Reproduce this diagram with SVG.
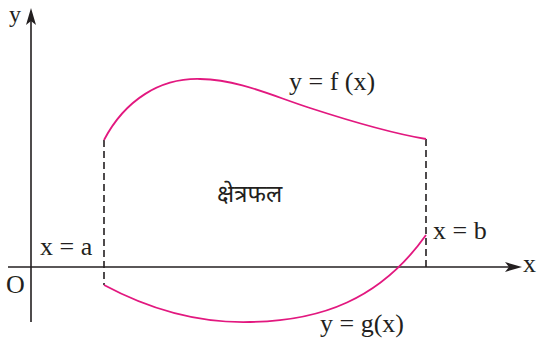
<svg xmlns="http://www.w3.org/2000/svg" width="537" height="347" viewBox="0 0 537 347">
<style>
.ax{stroke:#231f20;stroke-width:1.6;fill:none}
.ah{fill:#231f20}
.dash{stroke:#231f20;stroke-width:1.6;fill:none;stroke-dasharray:7 4}
.cur{stroke:#e2187f;stroke-width:1.8;fill:none}
.lbl{font-family:"Liberation Serif","Times New Roman",serif;font-size:26px;fill:#231f20}
.hin{font-family:"Noto Sans Devanagari","Noto Sans","Lohit Devanagari",sans-serif;font-size:24px;fill:#231f20}
</style>
<rect width="537" height="347" fill="#fff"/>
<g id="axes">
<line class="ax" x1="31" y1="322" x2="31" y2="20"/>
<path class="ah" d="M31,8 L36,25 L31,21 L26,25 Z"/>
<line class="ax" x1="8" y1="267" x2="510" y2="267"/>
<path class="ah" d="M522,267 L505,262 L509,267 L505,272 Z"/>
<text class="lbl" x="9" y="22" style="font-size:24px">y</text>
<text class="lbl" x="523" y="272">x</text>
<text class="lbl" x="6" y="293">O</text>
</g>
<g id="connectors">
<line class="dash" x1="104" y1="140" x2="104" y2="285"/>
<line class="dash" x1="426" y1="139" x2="426" y2="267"/>
</g>
<g id="curve-f">
<path class="cur" d="M104,140 C125,100 160,78 200,79 C240,80 270,95 310,108 C350,121 390,133 426,139"/>
<text class="lbl" x="289" y="90">y = f (x)</text>
</g>
<g id="curve-g">
<path class="cur" d="M104,285 C160,315 210,323 250,322 C320,321 380,300 426,235"/>
<text class="lbl" x="320" y="332">y = g(x)</text>
</g>
<g id="label-a">
<text class="lbl" x="40" y="255">x = a</text>
</g>
<g id="label-b">
<text class="lbl" x="433" y="239">x = b</text>
</g>
<g id="area">
<text class="hin" x="217" y="202">क्षेत्रफल</text>
</g>
</svg>
